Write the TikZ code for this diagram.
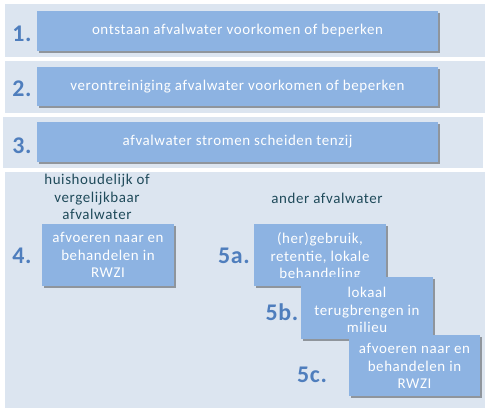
\documentclass[tikz,border=0pt]{standalone}
\usepackage{fontspec}
\setmainfont{Carlito}
\newfontfamily\boxfont[LetterSpace=4]{Carlito}
\newfontfamily\numfont[LetterSpace=3]{Carlito}
\usetikzlibrary{shadows}
\definecolor{panel}{HTML}{DCE5F0}
\definecolor{boxblue}{HTML}{8DB3E2}
\definecolor{numblue}{HTML}{4F7EBD}
\definecolor{headtxt}{HTML}{1F4A5A}
\tikzset{
  panelbox/.style={fill=panel, draw=none},
  bluebox/.style={fill=boxblue, draw=none, drop shadow={shadow xshift=1.5bp, shadow yshift=-1.5bp, fill=black, opacity=0.35}},
  boxtext/.style={text=white, font=\boxfont\fontsize{15}{17.3}\selectfont, align=center},
  numtext/.style={text=numblue, font=\numfont\fontsize{24}{26}\selectfont\bfseries},
  headtext/.style={text=headtxt, font=\boxfont\fontsize{15}{17.5}\selectfont, align=center}
}
\begin{document}
\begin{tikzpicture}[x=1bp,y=-1bp]
\useasboundingbox (0,0) rectangle (489,413);
\fill[white] (0,0) rectangle (489,413);
% panels
\fill[panelbox] (5,4) rectangle (485,57);
\fill[panelbox] (5,61) rectangle (485,113);
\fill[panelbox] (3,117) rectangle (483,168);
\fill[panelbox] (5,172) rectangle (485,408);
% boxes
\path[bluebox] (37,11) rectangle (438,51);
\node[boxtext] (t1) at (237.5,31) {ontstaan afvalwater voorkomen of beperken};
\path[bluebox] (37,67) rectangle (438,106);
\node[boxtext] (t2) at (237.5,86.5) {verontreiniging afvalwater voorkomen of beperken};
\path[bluebox] (37,122) rectangle (438,162);
\node[boxtext] (t3) at (237.5,142) {afvalwater stromen scheiden tenzij};
\node[numtext] (n1) at (22,34) {1.};
\node[numtext] (n2) at (22,89) {2.};
\node[numtext] (n3) at (22,146) {3.};
% headers
\node[headtext] (h4) at (97,197) {huishoudelijk of\\vergelijkbaar\\afvalwater};
\node[headtext] (h5) at (327,198) {ander afvalwater};
% box 4
\path[bluebox] (42,224) rectangle (174,286);
\node[boxtext] (t4) at (108,255) {afvoeren naar en\\behandelen in\\RWZI};
\node[numtext] (n4) at (22,256) {4.};
% box 5a
\path[bluebox] (254,224) rectangle (386,286);
\node[boxtext] (t5a) at (320,257) {(her)gebruik,\\retentie, lokale\\behandeling};
\node[numtext] (n5a) at (234,256) {5a.};
% box 5b
\path[bluebox] (301,277) rectangle (433,339);
\node[boxtext] (t5b) at (367,310) {lokaal\\terugbrengen in\\milieu};
\node[numtext] (n5b) at (282,312) {5b.};
% box 5c
\path[bluebox] (349,335) rectangle (480,396);
\node[boxtext] (t5c) at (414.5,366) {afvoeren naar en\\behandelen in\\RWZI};
\node[numtext] (n5c) at (312,375) {5c.};
\end{tikzpicture}
\end{document}
